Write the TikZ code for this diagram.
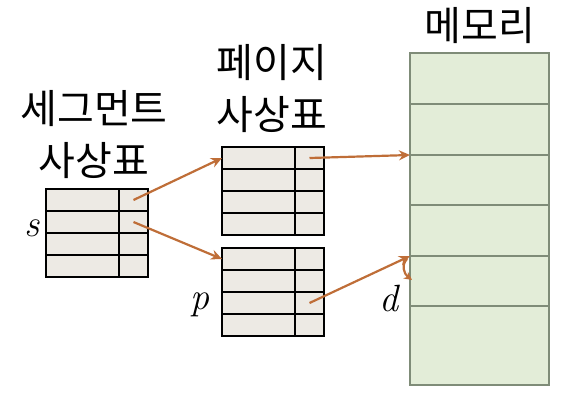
\documentclass[tikz,border=0pt]{standalone}
\usepackage{fontspec}
\usepackage{tikz}
\usetikzlibrary{positioning,arrows.meta}
\newfontfamily\krfont{Noto Sans CJK KR}
\definecolor{TableGray}{HTML}{EDEAE4}
\definecolor{MemGreen}{HTML}{E3EDD8}
\definecolor{MemLine}{HTML}{7F8C78}
\definecolor{LinkBrown}{HTML}{BF6E38}

\begin{document}
\begin{tikzpicture}[x=1pt, y=-1pt,
    keycell/.style={draw=black, fill=TableGray, line width=1.3pt, outer sep=0pt,
                    inner sep=0pt, minimum width=73pt, minimum height=22pt,
                    anchor=north west},
    valcell/.style={keycell, minimum width=29pt},
    memrow/.style={draw=MemLine, fill=MemGreen, line width=1.2pt, outer sep=0pt,
                   inner sep=0pt, minimum width=139pt, anchor=north west},
    headtext/.style={font=\krfont\fontsize{40}{52}\selectfont, align=center},
    var/.style={font=\fontsize{38}{40}\selectfont\itshape},
    link/.style={draw=LinkBrown, line width=2.2pt, -{Stealth[length=11pt,width=10pt]}}]
  \useasboundingbox (0,0) rectangle (569,400);

  \node[headtext] (segtitle) at (94,135) {세그먼트\\사상표};
  \node[headtext] (pgtitle) at (272,89) {페이지\\사상표};
  \node[headtext] (memtitle) at (480,26) {메모리};

  \foreach \tb/\x/\y in {seg/46/189, pga/222/147, pgb/222/248}
    \foreach \r in {1,...,4} {
      \node[keycell] (\tb-k\r) at (\x, \y+22*\r-22) {};
      \node[valcell, right=0pt of \tb-k\r] (\tb-v\r) {};
    }

  \foreach \i/\t/\h in {1/53/51, 2/104/51, 3/155/50, 4/205/51, 5/256/50, 6/306/79}
    \node[memrow, minimum height=\h pt] (mem-\i) at (410,\t) {};

  \node[var] (s) at (32,228) {s};
  \node[var] (p) at (200,305) {p};
  \node[var] (d) at (389,298) {d};

  \draw[link] (seg-v1.center) -- (pga-k1.west);
  \draw[link] (seg-v2.center) -- (pgb-k1.west);
  \draw[link] (pga-v1.center) -- (mem-3.north west);
  \draw[link] (pgb-v3.center) -- (mem-5.north west);

  \coordinate (doff) at ([shift={(2,24)}]mem-5.north west);
  \draw[link, -{Stealth[length=8pt,width=8pt]}]
    ([shift={(-3,3)}]mem-5.north west) .. controls +(-6,6) and +(-8,-6) .. (doff);
\end{tikzpicture}
\end{document}
